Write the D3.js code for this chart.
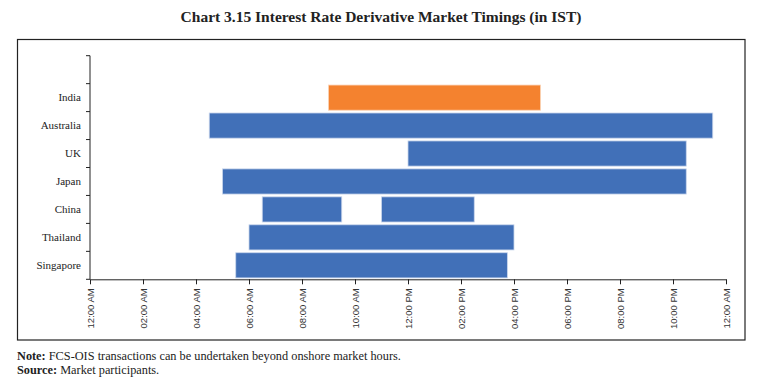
<!DOCTYPE html>
<html>
<head>
<meta charset="utf-8">
<script src="https://cdn.jsdelivr.net/npm/d3@7"></script>
<style>
  html, body { margin: 0; padding: 0; background: #fff; }
  svg { display: block; }
</style>
</head>
<body>
<svg id="chart" width="757" height="386"></svg>
<script>
// ---- Data ----
const categories = ["", "India", "Australia", "UK", "Japan", "China", "Thailand", "Singapore"];
const segCountry = ["India", "Australia", "UK", "Japan", "China", "China", "Thailand", "Singapore"];
const segStart   = ["09:00", "04:30", "12:00", "05:00", "06:30", "11:00", "06:00", "05:30"];
const segEnd     = ["17:00", "23:30", "22:30", "22:30", "09:30", "14:30", "16:00", "15:45"];
const tickHours  = [0, 2, 4, 6, 8, 10, 12, 14, 16, 18, 20, 22, 24];
const tickLabels = ["12:00 AM", "02:00 AM", "04:00 AM", "06:00 AM", "08:00 AM", "10:00 AM",
                    "12:00 PM", "02:00 PM", "04:00 PM", "06:00 PM", "08:00 PM", "10:00 PM", "12:00 AM"];
const highlight  = "India";

const toHours = s => { const [h, m] = s.split(":").map(Number); return h + m / 60; };
const segments = segCountry.map((c, i) => ({ country: c, start: toHours(segStart[i]), end: toHours(segEnd[i]) }));

// ---- Layout ----
const svg = d3.select("#chart");
const serif = "'Liberation Serif', 'DejaVu Serif', serif";
const sans = "'Liberation Sans', Arial, sans-serif";

svg.append("text")
  .attr("x", 381).attr("y", 22)
  .attr("text-anchor", "middle")
  .attr("font-family", serif).attr("font-weight", "bold").attr("font-size", 15.5)
  .attr("fill", "#222")
  .text("Chart 3.15 Interest Rate Derivative Market Timings (in IST)");

svg.append("rect")
  .attr("x", 17.5).attr("y", 39.5).attr("width", 727.5).attr("height", 300.5)
  .attr("fill", "none").attr("stroke", "#222").attr("stroke-width", 1.2);

const x = d3.scaleLinear().domain([0, 24]).range([90, 726]);
const y = d3.scaleBand().domain(categories).range([55.7, 279.3]).paddingInner(0.1).paddingOuter(0.05);

// bars
svg.append("g").selectAll("rect").data(segments).join("rect")
  .attr("x", d => x(d.start))
  .attr("y", d => y(d.country))
  .attr("width", d => x(d.end) - x(d.start))
  .attr("height", y.bandwidth())
  .attr("fill", d => d.country === highlight ? "#F4822F" : "#4170B8")
  .attr("stroke", d => d.country === highlight ? "#fbd3b5" : "#c9d6ec")
  .attr("stroke-width", 0.8);

// y axis (band boundaries as ticks)
const yAxisG = svg.append("g");
const bounds = categories.map(c => y(c) - y.step() * y.paddingInner() / 2);
bounds[0] = 55.7;
bounds.push(279.3);
yAxisG.append("line").attr("x1", 90).attr("x2", 90).attr("y1", 55.7).attr("y2", 279.3)
  .attr("stroke", "#222").attr("stroke-width", 1);
yAxisG.selectAll("line.t").data(bounds).join("line").attr("class", "t")
  .attr("x1", 86).attr("x2", 90).attr("y1", d => d).attr("y2", d => d)
  .attr("stroke", "#222").attr("stroke-width", 1);
yAxisG.selectAll("text").data(categories.filter(c => c !== "")).join("text")
  .attr("x", 81).attr("y", d => y(d) + y.bandwidth() / 2)
  .attr("dy", "0.35em")
  .attr("text-anchor", "end")
  .attr("font-family", serif).attr("font-size", 11)
  .attr("fill", "#222")
  .text(d => d);

// x axis
const xAxis = d3.axisBottom(x)
  .tickValues(tickHours)
  .tickFormat((d, i) => tickLabels[i])
  .tickSize(5).tickSizeOuter(0);
const xg = svg.append("g").attr("transform", "translate(0,279.3)").call(xAxis);
xg.select(".domain").attr("stroke", "#222");
xg.selectAll(".tick line").attr("stroke", "#222");
xg.selectAll(".tick text")
  .attr("font-family", sans).attr("font-size", 9.5).attr("fill", "#333")
  .attr("text-anchor", "end")
  .attr("transform", "rotate(-90)")
  .attr("x", -9).attr("y", 0).attr("dy", "0.35em");

// notes
const note = svg.append("text").attr("x", 17).attr("y", 360)
  .attr("font-family", serif).attr("font-size", 12.3).attr("fill", "#222");
note.append("tspan").attr("font-weight", "bold").text("Note: ");
note.append("tspan").text("FCS-OIS transactions can be undertaken beyond onshore market hours.");
const src = svg.append("text").attr("x", 17).attr("y", 374)
  .attr("font-family", serif).attr("font-size", 12.3).attr("fill", "#222");
src.append("tspan").attr("font-weight", "bold").text("Source: ");
src.append("tspan").text("Market participants.");
</script>
</body>
</html>
